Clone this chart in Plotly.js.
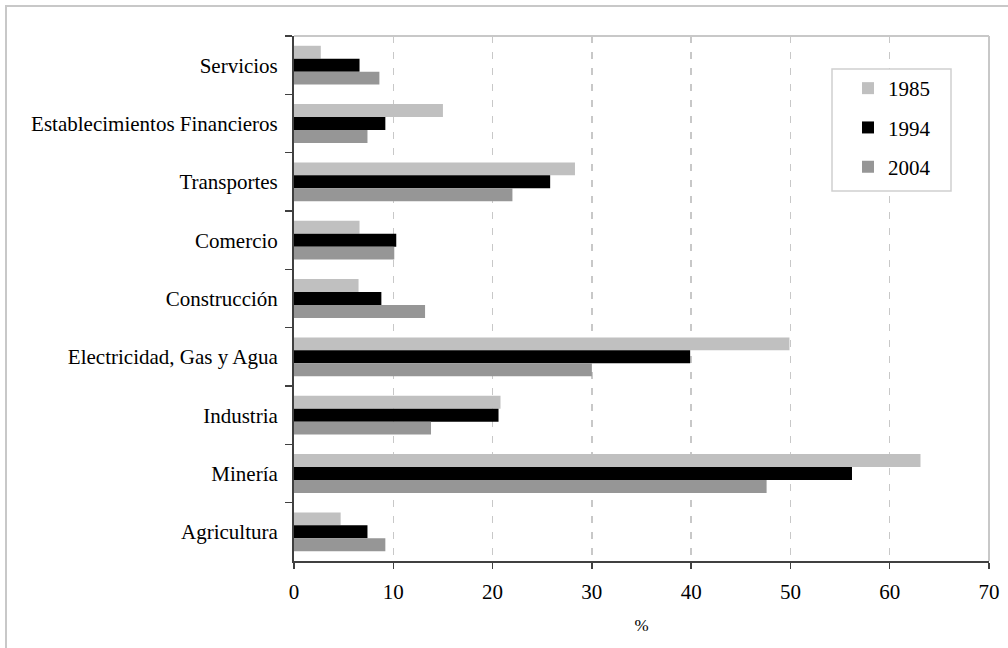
<!DOCTYPE html>
<html>
<head>
<meta charset="utf-8">
<script src="https://cdn.plot.ly/plotly-3.0.1.min.js"></script>
<style>
  html, body { margin: 0; padding: 0; background: #fff; }
  #frame { position: absolute; left: 5px; top: 5px; width: 1020px; height: 660px;
           border-left: 2px solid #c8c8c8; border-top: 2px solid #c8c8c8; pointer-events: none; }
  #chart { position: absolute; left: 0; top: 0; width: 1008px; height: 648px; }
</style>
</head>
<body>
<div id="chart"></div>
<div id="frame"></div>
<script>
// Categories, top to bottom
const categories = ["Servicios", "Establecimientos Financieros", "Transportes", "Comercio",
  "Construcción", "Electricidad, Gas y Agua", "Industria", "Minería", "Agricultura"];
const seriesNames = ["1985", "1994", "2004"];
const values1985 = [2.7, 15.0, 28.3, 6.6, 6.5, 49.9, 20.8, 63.1, 4.7];
const values1994 = [6.6, 9.2, 25.8, 10.3, 8.8, 39.9, 20.6, 56.2, 7.4];
const values2004 = [8.6, 7.4, 22.0, 10.1, 13.2, 30.0, 13.8, 47.6, 9.2];
const xTicks = [0, 10, 20, 30, 40, 50, 60, 70];
const xTitle = "%";

const colors = ["#c0c0c0", "#000000", "#969696"];
const allValues = [values1985, values1994, values2004];

const serif = "Liberation Serif";

const traces = allValues.map((vals, i) => ({
  type: "bar",
  orientation: "h",
  name: seriesNames[i],
  x: vals,
  y: categories,
  marker: { color: colors[i], line: { width: 0 } },
  legendgroup: "g" + i,
  hoverinfo: "x+y+name"
}));

const L = 294, R = 989, T = 36, B = 561;
const W = 1008, H = 648;
const px = (x) => (x - L) / (R - L);
const py = (y) => (B - y) / (B - T);

const layout = {
  width: W, height: H,
  margin: { l: L, r: W - R, t: T, b: H - B, pad: 0 },
  font: { family: serif, size: 20, color: "#000" },
  paper_bgcolor: "#ffffff",
  plot_bgcolor: "#ffffff",
  barmode: "group",
  bargap: 0.335,
  bargroupgap: 0,
  showlegend: true,
  legend: {
    x: px(848), y: py(68), xanchor: "left", yanchor: "top",
    bgcolor: "rgba(0,0,0,0)", borderwidth: 0,
    font: { family: serif, size: 21, color: "#000" },
    tracegroupgap: 9,
    itemclick: false
  },
  xaxis: {
    range: [0, 70],
    tickvals: xTicks,
    ticktext: xTicks.map(String),
    showgrid: true,
    gridcolor: "#c8c8c8",
    gridwidth: 1.5,
    griddash: "7px,9px",
    zeroline: false,
    showline: true,
    linecolor: "#404040",
    linewidth: 2,
    ticks: "outside",
    ticklen: 6,
    tickwidth: 1.5,
    tickcolor: "#404040",
    ticklabelstandoff: 5,
    tickfont: { family: serif, size: 21, color: "#000" },
    title: { text: xTitle, font: { family: serif, size: 17, color: "#000" }, standoff: 16 },
    fixedrange: true
  },
  yaxis: {
    type: "category",
    categoryorder: "array",
    categoryarray: categories,
    autorange: "reversed",
    showgrid: false,
    zeroline: false,
    showline: true,
    linecolor: "#404040",
    linewidth: 2,
    ticks: "outside",
    tickson: "boundaries",
    ticklen: 7,
    tickwidth: 1.5,
    tickcolor: "#404040",
    ticklabelstandoff: 10,
    tickfont: { family: serif, size: 21, color: "#000" },
    fixedrange: true
  },
  shapes: [
    { type: "line", xref: "paper", yref: "paper", x0: 0, x1: 1, y0: 1, y1: 1,
      line: { color: "#c8c8c8", width: 2 } },
    { type: "line", xref: "paper", yref: "paper", x0: 1, x1: 1, y0: 0, y1: 1,
      line: { color: "#c8c8c8", width: 2 } },
    { type: "rect", xref: "paper", yref: "paper",
      x0: px(832), x1: px(951), y0: py(191), y1: py(69),
      line: { color: "#d0d0d0", width: 1.5 }, fillcolor: "rgba(255,255,255,1)", layer: "above" }
  ]
};

Plotly.newPlot("chart", traces, layout, { displayModeBar: false, staticPlot: true });
</script>
</body>
</html>
